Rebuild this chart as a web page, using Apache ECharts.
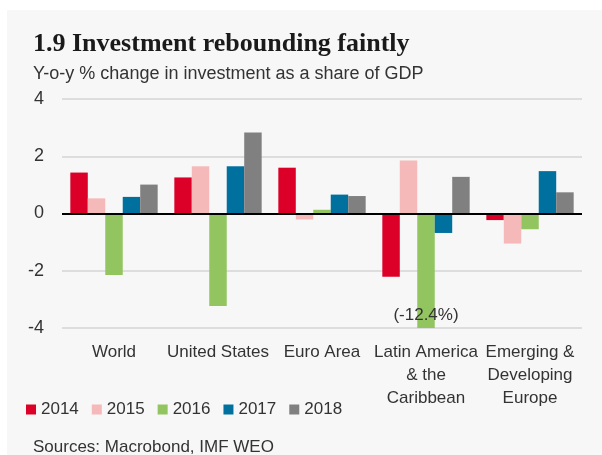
<!DOCTYPE html>
<html>
<head>
<meta charset="utf-8">
<script src="https://cdn.jsdelivr.net/npm/echarts@6/dist/echarts.min.js"></script>
<style>
  html, body { margin: 0; padding: 0; background: #fff; }
  #panel { position: absolute; left: 7px; top: 10px; width: 595px; height: 445px; background: #f7f7f7; }
  #chart { position: absolute; left: 0; top: 0; width: 602px; height: 455px; }
</style>
</head>
<body>
<div id="panel"></div>
<div id="chart"></div>
<script>
// 区域
const regions = ['World', 'United States', 'Euro Area', 'Latin America\n& the\nCaribbean', 'Emerging &\nDeveloping\nEurope']
const years = ['2014', '2015', '2016', '2017', '2018']
const colors = ['#dc0029', '#f5b9ba', '#92c45f', '#00709f', '#808080']

// 每年的数值 (y-o-y %)
const v2014 = [1.43, 1.26, 1.6, -2.21, -0.23]
const v2015 = [0.53, 1.65, -0.21, 1.85, -1.05]
const v2016 = [-2.15, -3.23, 0.13, -12.4, -0.55]
const v2017 = [0.58, 1.65, 0.66, -0.68, 1.48]
const v2018 = [1.01, 2.83, 0.61, 1.28, 0.74]
const yTicks = [-4, -2, 0, 2, 4]

const font = '"Liberation Sans Narrow", "Liberation Sans", Arial, sans-serif'
const allValues = [v2014, v2015, v2016, v2017, v2018]

let series = years.map((y, i) => ({
  name: y,
  type: 'bar',
  barGap: 0,
  barCategoryGap: '16%',
  clip: true,
  itemStyle: { color: colors[i] },
  data: allValues[i].map((v) => {
    // 拉美 2016 超出坐标范围, 标注实际值
    if (v < yTicks[0]) {
      return {
        value: v,
        label: {
          show: true,
          position: 'insideBottom',
          distance: 4,
          formatter: '(' + v + '%)',
          color: '#333',
          fontFamily: font,
          fontSize: 17,
        },
      }
    }
    return v
  }),
}))

// 零线
series[0].markLine = {
  silent: true,
  symbol: 'none',
  label: { show: false },
  lineStyle: { color: '#000', width: 2, type: 'solid' },
  data: [{ yAxis: 0 }],
}

let option = {
  animation: false,
  textStyle: { fontFamily: font },
  title: [
    {
      text: '1.9 Investment rebounding faintly',
      left: 28,
      top: 26,
      textStyle: { fontFamily: '"Liberation Serif", "DejaVu Serif", serif', fontSize: 26, fontWeight: 'bold', color: '#1a1a1a' },
    },
    {
      text: 'Y-o-y % change in investment as a share of GDP',
      left: 28,
      top: 60,
      textStyle: { fontFamily: font, fontSize: 18, fontWeight: 'normal', color: '#333' },
    },
    {
      text: 'Sources: Macrobond, IMF WEO',
      left: 28,
      top: 434,
      textStyle: { fontFamily: font, fontSize: 17, fontWeight: 'normal', color: '#333' },
    },
  ],
  legend: {
    left: 21,
    top: 396,
    icon: 'rect',
    itemWidth: 10,
    itemHeight: 10,
    itemGap: 13,
    textStyle: { fontFamily: font, fontSize: 17, color: '#333' },
    data: years,
  },
  grid: {
    left: 62,
    right: 20,
    top: 99,
    bottom: 127,
    containLabel: false,
  },
  xAxis: {
    type: 'category',
    data: regions,
    axisLine: { show: false },
    axisTick: { show: false },
    axisLabel: {
      interval: 0,
      margin: 13,
      color: '#333',
      fontFamily: font,
      fontSize: 17,
      lineHeight: 23,
      verticalAlign: 'top',
    },
  },
  yAxis: {
    type: 'value',
    min: yTicks[0],
    max: yTicks[yTicks.length - 1],
    interval: 2,
    axisLine: { show: false },
    axisTick: { show: false },
    axisLabel: { margin: 18, color: '#333', fontFamily: font, fontSize: 18 },
    splitLine: { lineStyle: { color: '#d4d4d4', width: 1.5 } },
  },
  series: series,
}

let myChart = echarts.init(document.getElementById('chart'))
myChart.setOption(option)
</script>
</body>
</html>
